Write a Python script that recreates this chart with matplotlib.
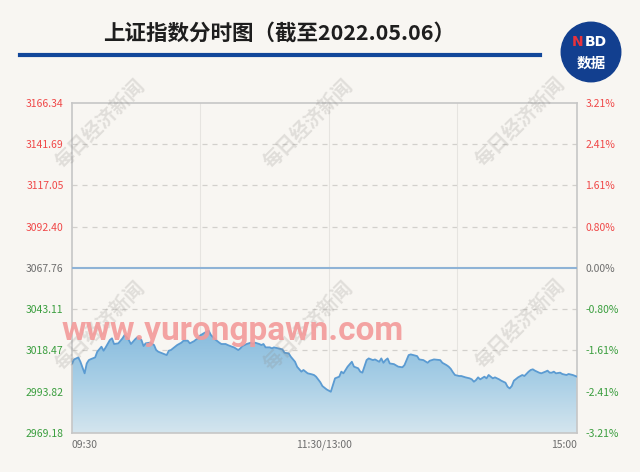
import matplotlib
matplotlib.use("Agg")
import matplotlib.pyplot as plt
import numpy as np
from matplotlib.colors import LinearSegmentedColormap
from matplotlib.patches import Circle
from matplotlib.lines import Line2D

plt.rcParams['font.family'] = ['Noto Sans CJK SC', 'DejaVu Sans']

title = "上证指数分时图（截至2022.05.06）"
prev_close = 3067.76
y_ticks = [2969.18, 2993.82, 3018.47, 3043.11, 3067.76, 3092.40, 3117.05, 3141.69, 3166.34]
pct_labels = ["-3.21%", "-2.41%", "-1.61%", "-0.80%", "0.00%", "0.80%", "1.61%", "2.41%", "3.21%"]
x_tick_pos = [0, 120, 240]
x_tick_labels = ["09:30", "11:30/13:00", "15:00"]

minutes = [0, 1, 3, 4, 6, 7, 8, 9, 11, 12, 14, 15, 16, 18, 19, 20, 22, 24, 25, 26, 27, 28, 30, 31,
           33, 34, 35, 37, 39, 40, 41, 43, 45, 46, 47, 49, 50, 52, 53, 55, 56, 58, 60, 61, 63, 65,
           66, 68, 70, 71, 73, 74, 76, 77, 79, 80, 81, 83, 85, 86, 87, 89, 90, 91, 92, 94, 95, 96,
           98, 100, 101, 103, 104, 106, 107, 109, 110, 112, 114, 115, 116, 118, 119, 121, 123, 124,
           125, 127, 128, 129, 130, 131, 133, 134, 136, 137, 138, 140, 141, 143, 144, 146, 147, 148,
           149, 150, 151, 153, 155, 157, 158, 160, 161, 164, 165, 167, 169, 170, 172, 175, 176, 178,
           179, 180, 181, 182, 184, 185, 187, 189, 190, 191, 192, 193, 194, 196, 197, 198, 199, 200,
           201, 203, 204, 206, 207, 208, 209, 210, 212, 214, 215, 217, 218, 219, 220, 222, 223, 225,
           226, 227, 228, 229, 230, 232, 233, 235, 236, 238, 240]
prices = [3010.7, 3013.1, 3014.3, 3011.7, 3004.8, 3010.7, 3012.7, 3013.3, 3014.3, 3017.7, 3020.7,
          3018.3, 3020.3, 3024.7, 3025.7, 3022.3, 3022.7, 3025.7, 3027.7, 3026.3, 3024.7, 3022.3,
          3025.1, 3026.3, 3024.7, 3021.1, 3022.7, 3023.1, 3021.7, 3018.7, 3017.7, 3016.7, 3015.7,
          3018.3, 3018.7, 3020.7, 3021.7, 3023.1, 3024.3, 3024.3, 3022.7, 3024.0, 3026.0, 3027.5,
          3029.0, 3030.2, 3027.7, 3025.1, 3023.1, 3022.3, 3022.3, 3021.7, 3020.7, 3020.3, 3018.7,
          3019.7, 3021.1, 3022.3, 3023.1, 3022.3, 3023.1, 3022.3, 3021.7, 3022.3, 3020.3, 3020.3,
          3019.7, 3020.3, 3019.7, 3019.1, 3017.1, 3016.7, 3014.7, 3011.7, 3008.7, 3005.8, 3006.8,
          3004.8, 3004.2, 3003.8, 3002.8, 2999.5, 2997.2, 2995.2, 2993.8, 2997.8, 3001.8, 3002.8,
          3005.8, 3004.8, 3006.8, 3008.8, 3011.7, 3008.8, 3007.8, 3005.8, 3005.2, 3012.7, 3013.7,
          3012.7, 3013.1, 3011.7, 3013.7, 3011.1, 3012.7, 3013.7, 3010.7, 3010.3, 3008.8, 3008.4,
          3009.7, 3015.7, 3016.1, 3015.1, 3013.1, 3012.7, 3011.1, 3012.3, 3013.1, 3012.7, 3011.1,
          3009.7, 3008.8, 3007.5, 3005.5, 3003.8, 3003.2, 3003.2, 3002.4, 3001.8, 3001.2, 2999.8,
          3000.8, 3002.4, 3001.2, 3002.8, 3001.8, 3003.8, 3002.8, 3001.8, 3002.4, 3001.2, 3000.4,
          2999.2, 2996.8, 2995.8, 2997.2, 3000.4, 3002.4, 3003.8, 3003.2, 3005.8, 3006.8, 3007.2,
          3006.4, 3005.2, 3004.8, 3005.8, 3006.4, 3005.2, 3005.2, 3005.8, 3004.8, 3005.2, 3004.4,
          3003.8, 3004.4, 3003.8, 3002.8]

BG = '#f8f6f2'
W, H = 640, 472
fig = plt.figure(figsize=(6.4, 4.72), dpi=100, facecolor=BG)

L, R, T, B = 72, 577, 102.7, 433
ax = fig.add_axes([L / W, 1 - B / H, (R - L) / W, (B - T) / H])
ax.set_facecolor('none')
ax.set_zorder(1)
ymin, ymax = y_ticks[0], y_ticks[-1]
ax.set_xlim(0, 240)
ax.set_ylim(ymin, ymax)

x = np.array(minutes, dtype=float)
y = np.array(prices)

# gradient fill under line
poly = ax.fill_between(x, y, ymin, facecolor='none', edgecolor='none')
cmap = LinearSegmentedColormap.from_list('g', ['#d4e5ee', '#a9cfe6', '#88bcde'])
grad = np.linspace(0, 1, 256).reshape(-1, 1)
im = ax.imshow(grad, extent=[0, 240, ymin, y.max()], origin='lower', aspect='auto',
               cmap=cmap, zorder=2)
im.set_clip_path(poly.get_paths()[0], transform=ax.transData)
ax.plot(x, y, color='#5b9bd2', lw=1.3, zorder=4)

# grid
for v in y_ticks[1:-1]:
    if abs(v - prev_close) < 1e-6:
        ax.axhline(v, color='#8fb3d6', lw=1.5, zorder=3)
    else:
        ax.axhline(v, color='#d2d0cc', lw=0.9, ls=(0, (4, 4)), zorder=1)
for xv in [61, 122, 183]:
    ax.axvline(xv, color='#e6e4e0', lw=0.8, zorder=1)

for s in ax.spines.values():
    s.set_color('#c6c6c6')
    s.set_linewidth(1.2)

red, gray, green = '#f04848', '#6e6e6e', '#3a9e3e'
def col(v):
    if abs(v - prev_close) < 1e-6:
        return gray
    return red if v > prev_close else green

ax.set_yticks(y_ticks)
ax.set_yticklabels([f"{v:.2f}" for v in y_ticks], fontsize=7.5)
for lab, v in zip(ax.get_yticklabels(), y_ticks):
    lab.set_color(col(v))
ax.tick_params(axis='y', length=0, pad=6)

ax2 = ax.twinx()
ax2.set_ylim(ymin, ymax)
ax2.set_yticks(y_ticks)
ax2.set_yticklabels(pct_labels, fontsize=7.5)
for lab, v in zip(ax2.get_yticklabels(), y_ticks):
    lab.set_color(col(v))
ax2.tick_params(axis='y', length=0, pad=6)
for s in ax2.spines.values():
    s.set_visible(False)

ax.set_xticks(x_tick_pos)
ax.set_xticklabels(x_tick_labels, fontsize=7.5, color=gray)
ax.tick_params(axis='x', length=0, pad=5)
xl = ax.get_xticklabels()
xl[0].set_ha('left')
xl[-1].set_ha('right')

# title and rule
fig.text(103 / W, 1 - 33 / H, title, fontsize=15.5, fontweight='bold', color='#1e1e1e',
         ha='left', va='center')
fig.add_artist(Line2D([20 / W, 540 / W], [1 - 55 / H] * 2, lw=3, color='#12479a'))

# logo
lax = fig.add_axes([560 / W, 1 - 83 / H, 62 / W, 62 / H])
lax.set_zorder(5)
lax.set_xlim(0, 1); lax.set_ylim(0, 1); lax.axis('off')
lax.add_patch(Circle((0.5, 0.5), 0.48, color='#123f8f'))
lax.text(0.29, 0.66, "N", color='#e8323c', fontsize=10, fontweight='bold', ha='center', va='center',
         family=['DejaVu Sans'])
lax.text(0.58, 0.66, "BD", color='white', fontsize=10, fontweight='bold', ha='center', va='center',
         family=['DejaVu Sans'])
lax.text(0.5, 0.33, "数据", color='white', fontsize=10.5, fontweight='bold', ha='center', va='center')

# watermarks
wm = "每日经济新闻"
for (px, py) in [(100, 124), (308, 124), (520, 122), (100, 326), (308, 326), (520, 324)]:
    fig.text(px / W, 1 - py / H, wm, fontsize=14, fontweight='bold', color='#8c8884', alpha=0.22,
             rotation=45, ha='center', va='center', zorder=10)

fig.text(62 / W, 1 - 331 / H, "www.yurongpawn.com", fontsize=24, color='#f39a9a', alpha=0.9,
         ha='left', va='center', family=['Roboto', 'DejaVu Sans'], fontweight='bold', zorder=20)

fig.savefig('out.png', dpi=100, facecolor=BG)
